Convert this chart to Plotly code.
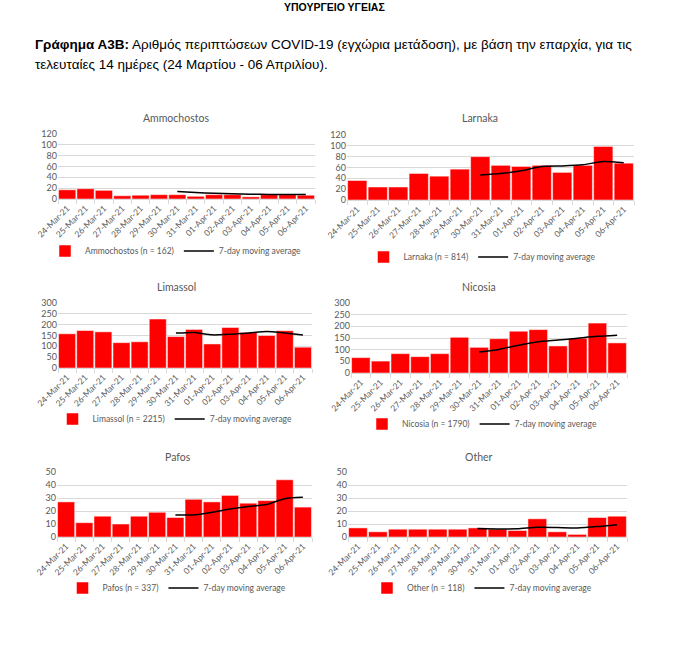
import plotly.graph_objects as go

dates = ["24-Mar-21", "25-Mar-21", "26-Mar-21", "27-Mar-21", "28-Mar-21", "29-Mar-21", "30-Mar-21",
         "31-Mar-21", "01-Apr-21", "02-Apr-21", "03-Apr-21", "04-Apr-21", "05-Apr-21", "06-Apr-21"]
ma_dates = ["30-Mar-21", "31-Mar-21", "01-Apr-21", "02-Apr-21", "03-Apr-21", "04-Apr-21", "05-Apr-21", "06-Apr-21"]

ammochostos = [17, 19, 16, 6, 7, 8, 8, 5, 8, 8, 4, 8, 8, 7]
ammochostos_ma = [14, 12, 10.5, 9.5, 9, 8.5, 8.5, 8.5]
larnaka = [36, 24, 24, 49, 44, 57, 80, 64, 62, 64, 51, 64, 99, 68]
larnaka_ma = [46, 49, 54, 62, 63, 65, 71, 69]
limassol = [158, 173, 167, 117, 121, 226, 145, 178, 111, 187, 164, 150, 172, 96]
limassol_ma = [161, 164, 153, 156, 162, 169, 162, 152]
nicosia = [66, 51, 83, 70, 83, 153, 110, 147, 179, 186, 116, 149, 214, 129]
nicosia_ma = [90, 101, 119, 134, 141, 149, 157, 162]
pafos = [27, 11, 16, 10, 16, 19, 15, 29, 27, 32, 26, 28, 44, 23]
pafos_ma = [17, 17, 19, 21.5, 23.5, 25, 29.5, 30.5]
other = [7, 4, 6, 6, 6, 6, 7, 6, 5, 14, 4, 2, 15, 16]
other_ma = [6.5, 6.2, 6.3, 7.5, 7.3, 7.0, 8.0, 9.5]

names = ["Ammochostos", "Larnaka", "Limassol", "Nicosia", "Pafos", "Other"]
totals = [162, 814, 2215, 1790, 337, 118]
values = [ammochostos, larnaka, limassol, nicosia, pafos, other]
mas = [ammochostos_ma, larnaka_ma, limassol_ma, nicosia_ma, pafos_ma, other_ma]
yranges = [120, 120, 300, 300, 50, 50]
ydticks = [20, 20, 50, 50, 10, 10]

W, H = 699, 659
# pixel boxes: (x0, x1, ytop, ybottom), title pos, legend pos
boxes = [(58, 315, 134, 199), (347, 634, 135, 200),
         (58, 312, 303, 368), (351, 627, 303, 373),
         (57, 312, 472, 537), (348, 627, 472, 537)]
titles_pos = [(176, 118), (480, 118), (176, 287), (479, 287), (178, 457), (479, 457)]
legend_pos = [(176, 251), (482, 257), (175, 419), (482, 424), (177, 588), (482, 588)]

GRAY = "#595959"
FONT = "Lato, Open Sans, sans-serif"
TXT = "Liberation Sans, Arial, sans-serif"

fig = go.Figure()
layout = dict(width=W, height=H, margin=dict(l=0, r=0, t=0, b=0, pad=0, autoexpand=False),
              paper_bgcolor="white", plot_bgcolor="white", bargap=0.06,
              showlegend=True, font=dict(family=FONT, color=GRAY))
annotations = []

for i in range(6):
    k = i + 1
    sx = "" if k == 1 else str(k)
    lg = "legend" if k == 1 else f"legend{k}"
    fig.add_trace(go.Bar(x=dates, y=values[i], name=f"{names[i]} (n = {totals[i]})",
                         marker=dict(color="#FF0000", line=dict(color="white", width=0.5)),
                         xaxis="x" + sx, yaxis="y" + sx, legend=lg))
    fig.add_trace(go.Scatter(x=ma_dates, y=mas[i], name="7-day moving average", mode="lines",
                             line=dict(color="black", width=1.5, shape="spline", smoothing=0.6),
                             xaxis="x" + sx, yaxis="y" + sx, legend=lg))
    x0, x1, yt, yb = boxes[i]
    layout["xaxis" + sx] = dict(domain=[x0 / W, x1 / W], anchor="y" + sx, type="category",
                                tickangle=-45, tickfont=dict(size=8.5, color=GRAY, family=FONT),
                                showline=True, linecolor="#d9d9d9", linewidth=1,
                                ticks="outside", tickson="boundaries", ticklen=4, tickcolor="#d9d9d9",
                                showgrid=False, fixedrange=True, automargin=False)
    layout["yaxis" + sx] = dict(domain=[1 - yb / H, 1 - yt / H], anchor="x" + sx,
                                range=[0, yranges[i]], dtick=ydticks[i],
                                tickfont=dict(size=9, color=GRAY, family=FONT),
                                showgrid=True, gridcolor="#d9d9d9", gridwidth=1,
                                zeroline=False, showline=False, ticks="", fixedrange=True,
                                automargin=False)
    lx, ly = legend_pos[i]
    layout[lg] = dict(x=lx / W, y=1 - ly / H, xanchor="center", yanchor="middle",
                      orientation="h", font=dict(size=8.5, color=GRAY, family=FONT),
                      bgcolor="rgba(0,0,0,0)", itemwidth=30, tracegroupgap=0)
    tx, ty = titles_pos[i]
    annotations.append(dict(text=names[i], x=tx / W, y=1 - ty / H, xref="paper", yref="paper",
                            xanchor="center", yanchor="middle", showarrow=False,
                            font=dict(size=10.5, color=GRAY, family=FONT)))

annotations.append(dict(text="<b>ΥΠΟΥΡΓΕΙΟ ΥΓΕΙΑΣ</b>", x=334 / W, y=1.0, xref="paper", yref="paper",
                        xanchor="center", yanchor="top", showarrow=False, borderpad=0,
                        font=dict(size=10.5, color="black", family=TXT)))
annotations.append(dict(text="<b>Γράφημα Α3Β:</b> Αριθμός περιπτώσεων COVID-19 (εγχώρια μετάδοση), με βάση την επαρχία, για τις",
                        x=33 / W, y=1 - 44 / H, xref="paper", yref="paper",
                        xanchor="left", yanchor="middle", showarrow=False,
                        font=dict(size=13.5, color="black", family=TXT)))
annotations.append(dict(text="τελευταίες 14 ημέρες (24 Μαρτίου - 06 Απριλίου).",
                        x=33 / W, y=1 - 64 / H, xref="paper", yref="paper",
                        xanchor="left", yanchor="middle", showarrow=False,
                        font=dict(size=13.5, color="black", family=TXT)))
layout["annotations"] = annotations
fig.update_layout(**layout)
fig.write_html("out.html", config={"displayModeBar": False},
               post_script="document.body.style.margin='0';document.body.style.overflow='hidden';")
